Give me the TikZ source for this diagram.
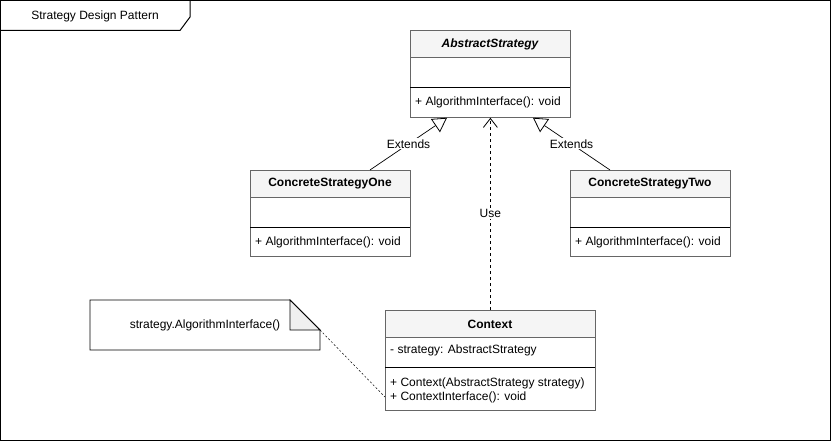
\documentclass[tikz,border=0pt]{standalone}
\usepackage{fontspec}
\setmainfont{Liberation Sans}
\usetikzlibrary{arrows.meta,calc}
\definecolor{boxgray}{HTML}{666666}
\definecolor{headfill}{HTML}{F5F5F5}
\definecolor{foldfill}{HTML}{EFEFEF}
\tikzset{
  txt/.style={font=\fontsize{12}{14}\selectfont, inner sep=0pt},
  classbox/.style={draw=boxgray, line width=0.8pt, fill=white, rectangle, inner sep=0pt, anchor=north west},
  headrow/.style={draw=boxgray, line width=0.8pt, fill=headfill},
  sepline/.style={draw=black, line width=0.9pt},
  member/.style={txt, anchor=west},
  classname/.style={txt, font=\fontsize{12}{14}\selectfont\bfseries},
  extends/.style={draw=black, line width=0.7pt, -{Triangle[open, length=14pt, width=16pt, line width=0.8pt]}},
  uses/.style={draw=black, line width=0.8pt, dash pattern=on 3pt off 3pt, -{Straight Barb[length=9pt, width=14pt, line width=0.8pt]}},
  notelink/.style={draw=black, line width=0.5pt, dash pattern=on 2pt off 2pt},
  edgelabel/.style={txt, fill=white, inner sep=1pt},
}
\begin{document}
\begin{tikzpicture}[x=1pt, y=-1pt]
  \useasboundingbox (0,0) rectangle (831,441);

  % outer frame with title tab
  \draw[line width=1pt] (0.5,0.5) rectangle (830.5,440.5);
  \draw[line width=1pt] (0.5,30.5) -- (180,30.5) -- (190,17) -- (190,0.5);
  \node[txt] (title) at (95,16) {Strategy Design Pattern};

  % AbstractStrategy
  \node[classbox, minimum width=160pt, minimum height=87pt] (abs) at (410,30) {};
  \draw[headrow] (410,30) rectangle (570,57);
  \draw[sepline] (410,87) -- (570,87);
  \node[classname, font=\fontsize{12}{14}\selectfont\bfseries\itshape] (absname) at (490,44) {AbstractStrategy};
  \node[member] (absop) at (415,102) {+ AlgorithmInterface(): void};

  % ConcreteStrategyOne
  \node[classbox, minimum width=160pt, minimum height=86pt] (one) at (250,170) {};
  \draw[headrow] (250,170) rectangle (410,197);
  \draw[sepline] (250,227) -- (410,227);
  \node[classname] (onename) at (330,184) {ConcreteStrategyOne};
  \node[member] (oneop) at (255,242) {+ AlgorithmInterface(): void};

  % ConcreteStrategyTwo
  \node[classbox, minimum width=160pt, minimum height=86pt] (two) at (570,170) {};
  \draw[headrow] (570,170) rectangle (730,197);
  \draw[sepline] (570,227) -- (730,227);
  \node[classname] (twoname) at (650,184) {ConcreteStrategyTwo};
  \node[member] (twoop) at (575,242) {+ AlgorithmInterface(): void};

  % Context
  \node[classbox, minimum width=210pt, minimum height=100pt] (ctx) at (385,310) {};
  \draw[headrow] (385,310) rectangle (595,337);
  \draw[sepline] (385,367) -- (595,367);
  \node[classname] (ctxname) at (490,324) {Context};
  \node[member] (ctxattr) at (390,350) {- strategy: AbstractStrategy};
  \node[member] (ctxop1) at (390,383) {+ Context(AbstractStrategy strategy)};
  \node[member] (ctxop2) at (390,397) {+ ContextInterface(): void};

  % note with folded corner
  \draw[line width=0.8pt, fill=white] (90,300) -- (290,300) -- (320,330) -- (320,350) -- (90,350) -- cycle;
  \draw[line width=0.8pt, fill=foldfill] (290,300) -- (290,330) -- (320,330) -- cycle;
  \coordinate (notecorner) at (320,330);
  \node[txt] (note) at (205,325) {strategy.AlgorithmInterface()};

  % generalisation edges
  \draw[extends] ($(one.north west)+(120,0)$) -- ($(abs.south west)+(37,0)$)
    node[edgelabel, pos=0.5] (ext1) {Extends};
  \draw[extends] ($(two.north west)+(40,0)$) -- ($(abs.south west)+(123,0)$)
    node[edgelabel, pos=0.5] (ext2) {Extends};

  % dependency edge
  \draw[uses] (ctx.north) -- (abs.south) node[edgelabel, pos=0.5] (uselbl) {Use};

  % note attachment
  \draw[notelink] (notecorner) -- ($(ctx.north west)+(0,87)$);
\end{tikzpicture}
\end{document}
